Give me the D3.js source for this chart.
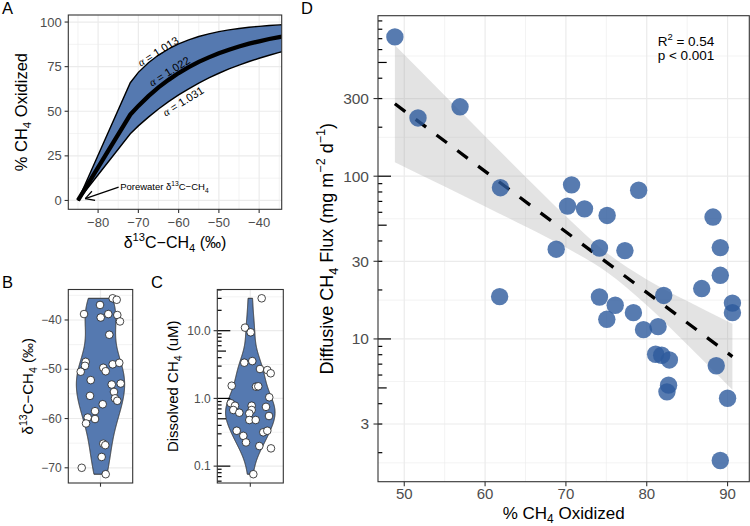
<!DOCTYPE html>
<html><head><meta charset="utf-8">
<script src="https://cdn.jsdelivr.net/npm/d3@7"></script>
<style>body{margin:0;background:#fff}svg{display:block}text{font-family:"Liberation Sans",Arial,Helvetica,sans-serif}</style>
</head><body><svg id="c" width="750" height="526"></svg>
<script>
// ---------------- DATA ----------------
// Panel A: model curves, delta13C-CH4 vs % oxidized
const curveDelta = [-85, -72, -70, -67.5, -65, -62.5, -60, -57.5, -55, -52.5, -50, -47.5, -45, -42.5, -40, -37.5, -35, -34];
const oxidized1013 = [0, 66.0, 71.8, 77.2, 81.5, 84.9, 87.8, 90.0, 91.9, 93.4, 94.6, 95.6, 96.4, 97.1, 97.6, 98.1, 98.4, 98.5];
const oxidized1022 = [0, 48.1, 53.0, 58.5, 63.4, 67.6, 71.4, 74.7, 77.7, 80.2, 82.5, 84.5, 86.3, 87.9, 89.2, 90.5, 91.6, 91.9];
const oxidized1031 = [0, 37.4, 41.8, 46.7, 51.3, 55.4, 59.2, 62.6, 65.8, 68.7, 71.3, 73.7, 75.9, 77.9, 79.7, 81.4, 83.0, 83.5];
const alphaLabels = ["1.013", "1.022", "1.031"];
const aXTicks = [-80, -70, -60, -50, -40];
const aYTicks = [0, 25, 50, 75, 100];

// Panel B: porewater delta13C-CH4 (permil) and jitter offsets
const bDelta = [-35.6, -35.9, -36.95, -38.8, -39.5, -38.8, -39.0, -40.3, -43.0, -48.5, -49.3, -50.5, -49.7, -50.4, -49.0, -48.7, -52.2, -53.1, -52.9, -54.6, -55.4, -55.9, -56.4, -57.1, -58.5, -59.8, -60.1, -61.0, -65.1, -65.4, -67.8, -70.0, -71.3];
const bJitter = [0.227, 0.302, -0.009, -0.307, 0.004, 0.145, 0.313, 0.363, 0.164, -0.276, -0.289, -0.369, 0.052, 0.097, 0.227, 0.350, -0.182, 0.209, 0.376, 0.251, -0.196, 0.270, 0.313, 0.041, -0.102, -0.238, -0.102, -0.270, 0.052, 0.089, 0.022, -0.350, 0.097];
const bYTicks = [-70, -60, -50, -40];

// Panel C: dissolved CH4 (uM) and jitter offsets
const cCH4 = [30.1, 11.1, 9.47, 3.37, 3.56, 2.72, 2.62, 2.35, 1.54, 1.49, 1.51, 0.85, 0.78, 0.675, 0.615, 0.78, 0.675, 0.60, 0.48, 0.48, 1.04, 0.75, 0.55, 0.333, 0.28, 0.224, 0.316, 0.333, 0.198, 0.183, 0.076];
const cJitter = [0.207, -0.096, 0.007, -0.109, 0.036, 0.176, 0.309, 0.371, -0.338, 0.104, 0.145, -0.356, -0.278, -0.309, -0.2, 0.025, 0.025, -0.018, -0.018, 0.098, 0.345, 0.285, 0.34, -0.247, -0.127, -0.078, 0.236, 0.309, 0.164, 0.376, 0.055];
const cYTicks = [0.1, 1, 10];
const cYLabels = ["0.1", "1.0", "10.0"];

// Panel D: % CH4 oxidized vs diffusive flux
const dOxidized = [48.84, 51.7, 56.9, 61.9, 70.7, 70.2, 72.3, 75.1, 79.0, 88.2, 89.1, 68.8, 74.15, 77.3, 61.8, 74.15, 76.1, 75.06, 78.35, 79.6, 81.4, 82.1, 86.8, 89.1, 90.6, 90.6, 81.1, 81.85, 82.8, 82.7, 82.5, 88.6, 90.0, 89.1];
const dFlux = [718, 228, 267, 85, 88.5, 65.5, 63, 57.4, 82, 56.1, 36.4, 35.6, 36.2, 34.9, 18.2, 18.1, 16.1, 13.2, 14.5, 11.4, 11.9, 18.5, 20.4, 24.6, 16.6, 14.5, 8.05, 7.94, 7.43, 5.2, 4.73, 6.84, 4.32, 1.79];
const fitX = [48.84, 90.6];
const fitY = [278.6, 7.79];
const ciX = [48.84, 55, 60, 65, 70, 75, 80, 85, 90.6];
const ciUpper = [637, 313, 176, 99.4, 56.8, 34.0, 23.2, 17.1, 12.4];
const ciLower = [121.8, 86.3, 65.2, 49.0, 36.4, 25.9, 16.1, 9.25, 4.88];
const dXTicks = [50, 60, 70, 80, 90];
const dYTicks = [3, 10, 30, 100, 300];
const statsText = ["0.54", "0.001"];

// ---------------- STYLE / HELPERS ----------------
const svg = d3.select("#c");
const GRID = "#ebebeb", BORDER = "#333333", AXT = "#4d4d4d", FILL = "#5579b0";
const defs = svg.append("defs");

function rich(sel, parts, fs) {
  let shift = 0;
  parts.forEach(p => {
    let target = 0, size = fs;
    if (p.sub) { target = 0.27 * fs; size = fs * 0.7; }
    if (p.sup) { target = -0.42 * fs; size = fs * 0.7; }
    sel.append("tspan").attr("font-size", size).attr("dy", target - shift).text(p.t);
    shift = target;
  });
  return sel;
}
function grid(g, P, xs, ys, xMaj, xMin, yMaj, yMin) {
  const add = (vals, isX, w) => vals.forEach(v => {
    const p = isX ? xs(v) : ys(v);
    if (isX) { if (p < P.l || p > P.r) return;
      g.append("line").attr("x1", p).attr("x2", p).attr("y1", P.t).attr("y2", P.b).attr("stroke", GRID).attr("stroke-width", w);
    } else { if (p < P.t || p > P.b) return;
      g.append("line").attr("y1", p).attr("y2", p).attr("x1", P.l).attr("x2", P.r).attr("stroke", GRID).attr("stroke-width", w);
    }
  });
  add(xMin, true, 0.6); add(yMin, false, 0.6); add(xMaj, true, 1.2); add(yMaj, false, 1.2);
}
function border(g, P) {
  g.append("rect").attr("x", P.l).attr("y", P.t).attr("width", P.r - P.l).attr("height", P.b - P.t)
    .attr("fill", "none").attr("stroke", BORDER).attr("stroke-width", 1.1);
}
function yTicks(g, P, ys, vals, labels, fs, len, gap) {
  vals.forEach((v, i) => {
    const y = ys(v);
    g.append("line").attr("x1", P.l - len).attr("x2", P.l).attr("y1", y).attr("y2", y).attr("stroke", BORDER).attr("stroke-width", 1.1);
    g.append("text").attr("x", P.l - len - gap).attr("y", y + fs * 0.35).attr("text-anchor", "end")
      .attr("font-size", fs).attr("fill", AXT).text(labels[i]);
  });
}
function xTicks(g, P, xs, vals, labels, fs, len, base) {
  vals.forEach((v, i) => {
    const x = xs(v);
    g.append("line").attr("x1", x).attr("x2", x).attr("y1", P.b).attr("y2", P.b + len).attr("stroke", BORDER).attr("stroke-width", 1.1);
    if (labels) g.append("text").attr("x", x).attr("y", base).attr("text-anchor", "middle")
      .attr("font-size", fs).attr("fill", AXT).text(labels[i]);
  });
}
function clip(id, P) {
  defs.append("clipPath").attr("id", id).append("rect").attr("x", P.l).attr("y", P.t).attr("width", P.r - P.l).attr("height", P.b - P.t);
}
function logMinor(breaks) { return d3.pairs(breaks).map(([a, b]) => Math.sqrt(a * b)); }
function logTicks(g, P, ys) {
  const [lo, hi] = ys.domain();
  for (let e = -3; e <= 4; e++) for (let k = 1; k <= 9; k++) {
    const v = k * Math.pow(10, e);
    if (v < lo || v > hi) continue;
    const len = k === 1 ? 13 : (k === 5 ? 8.7 : 4.3);
    const y = ys(v);
    g.append("line").attr("x1", P.l).attr("x2", P.l + len).attr("y1", y).attr("y2", y).attr("stroke", "#000").attr("stroke-width", 1.2);
  }
}
function panelLabel(t, x, y) {
  svg.append("text").attr("x", x).attr("y", y).attr("font-size", 16.5).attr("fill", "#000").text(t);
}
function kde(values) {
  const s = values.slice().sort(d3.ascending);
  const sd = d3.deviation(values);
  const iqr = d3.quantile(s, 0.75) - d3.quantile(s, 0.25);
  const bw = 0.9 * Math.min(sd, iqr / 1.34) * Math.pow(values.length, -0.2);
  const lo = s[0], hi = s[s.length - 1], n = 512;
  return d3.range(n).map(i => {
    const y = lo + (hi - lo) * i / (n - 1);
    const d = d3.mean(values, v => Math.exp(-0.5 * ((y - v) / bw) ** 2)) / (bw * Math.sqrt(2 * Math.PI));
    return [y, d];
  });
}
function expand(lo, hi) { const r = hi - lo; return [lo - 0.05 * r, hi + 0.05 * r]; }

// ---------------- PANEL A ----------------
{
  const P = { l: 68.3, r: 281.7, t: 15, b: 209.3 };
  const g = svg.append("g");
  const xs = d3.scaleLinear().domain([-87.4, -34.4]).range([P.l, P.r]);
  const ys = d3.scaleLinear().domain([-4.95, 103.95]).range([P.b, P.t]);
  grid(g, P, xs, ys, aXTicks, [-85, -75, -65, -55, -45, -35], aYTicks, [12.5, 37.5, 62.5, 87.5]);
  clip("clipA", P);
  const m = g.append("g").attr("clip-path", "url(#clipA)");
  const band = curveDelta.map((d, i) => ({ d, u: oxidized1013[i], lo: oxidized1031[i], mid: oxidized1022[i] }));
  m.append("path").datum(band).attr("fill", FILL)
    .attr("d", d3.area().x(p => xs(p.d)).y0(p => ys(p.lo)).y1(p => ys(p.u)));
  const ln = key => d3.line().x(p => xs(p.d)).y(p => ys(p[key]));
  m.append("path").datum(band).attr("fill", "none").attr("stroke", "#000").attr("stroke-width", 1.4).attr("d", ln("u"));
  m.append("path").datum(band).attr("fill", "none").attr("stroke", "#000").attr("stroke-width", 1.4).attr("d", ln("lo"));
  m.append("path").datum(band).attr("fill", "none").attr("stroke", "#000").attr("stroke-width", 4.3).attr("d", ln("mid"));
  // curve labels
  const labPos = [[-65.1, 83.6], [-62.3, 72.4], [-58.9, 55.6]];
  alphaLabels.forEach((a, i) => {
    const t = g.append("text").attr("font-size", 11).attr("fill", "#000").attr("text-anchor", "middle")
      .attr("dominant-baseline", "central")
      .attr("transform", `translate(${xs(labPos[i][0])},${ys(labPos[i][1])}) rotate(-32)`);
    t.append("tspan").attr("font-family", "Liberation Serif, serif").attr("font-style", "italic").text("α");
    t.append("tspan").text(" = " + a);
  });
  // arrow
  const tip = [xs(-83.2), ys(1)], tail = [xs(-74.9), ys(7.5)];
  g.append("line").attr("x1", tail[0]).attr("y1", tail[1]).attr("x2", tip[0]).attr("y2", tip[1]).attr("stroke", "#000").attr("stroke-width", 1.2);
  const ang = Math.atan2(tail[1] - tip[1], tail[0] - tip[0]);
  [-0.5, 0.5].forEach(o => {
    g.append("line").attr("x1", tip[0]).attr("y1", tip[1])
      .attr("x2", tip[0] + 10 * Math.cos(ang + o)).attr("y2", tip[1] + 10 * Math.sin(ang + o))
      .attr("stroke", "#000").attr("stroke-width", 1.2);
  });
  rich(g.append("text").attr("x", tail[0] + 1.5).attr("y", tail[1] + 3.3).attr("fill", "#000"),
    [{ t: "Porewater δ" }, { t: "13", sup: true }, { t: "C−CH" }, { t: "4", sub: true }], 9.5);
  border(g, P);
  yTicks(g, P, ys, aYTicks, aYTicks.map(String), 13, 3.7, 2.9);
  xTicks(g, P, xs, aXTicks, aXTicks.map(d3.format("d")), 13, 3.7, 227);
  rich(g.append("text").attr("x", (P.l + P.r) / 2).attr("y", 248).attr("text-anchor", "middle").attr("fill", "#000"),
    [{ t: "δ" }, { t: "13", sup: true }, { t: "C−CH" }, { t: "4", sub: true }, { t: " (‰)" }], 16);
  rich(g.append("text").attr("transform", `translate(27,${(P.t + P.b) / 2}) rotate(-90)`).attr("text-anchor", "middle").attr("fill", "#000"),
    [{ t: "% CH" }, { t: "4", sub: true }, { t: " Oxidized" }], 16.5);
  panelLabel("A", 2, 13.5);
}

// ---------------- PANEL B ----------------
{
  const P = { l: 68.3, r: 132.7, t: 289.5, b: 483 };
  const g = svg.append("g");
  const xs = d3.scaleLinear().domain([0.4, 1.6]).range([P.l, P.r]);
  const ys = d3.scaleLinear().domain(expand(d3.min(bDelta), d3.max(bDelta))).range([P.b, P.t]);
  grid(g, P, xs, ys, [1], [], bYTicks, [-75, -65, -55, -45, -35]);
  const dens = kde(bDelta), mx = d3.max(dens, d => d[1]);
  const pts = dens.map(d => [xs(1 + 0.45 * d[1] / mx), ys(d[0])])
    .concat(dens.slice().reverse().map(d => [xs(1 - 0.45 * d[1] / mx), ys(d[0])]));
  g.append("path").attr("d", d3.line()(pts) + "Z").attr("fill", FILL).attr("stroke", "#333").attr("stroke-width", 1);
  g.selectAll(".bp").data(bDelta).enter().append("circle")
    .attr("cx", (d, i) => xs(1 + bJitter[i])).attr("cy", d => ys(d)).attr("r", 3.8)
    .attr("fill", "#fff").attr("stroke", "#1a1a1a").attr("stroke-width", 0.8);
  border(g, P);
  yTicks(g, P, ys, bYTicks, bYTicks.map(d3.format("d")), 12, 3.7, 2.9);
  xTicks(g, P, xs, [1], null, 12, 3.7, 0);
  rich(g.append("text").attr("transform", `translate(33,${(P.t + P.b) / 2}) rotate(-90)`).attr("text-anchor", "middle").attr("fill", "#000"),
    [{ t: "δ" }, { t: "13", sup: true }, { t: "C−CH" }, { t: "4", sub: true }, { t: " (‰)" }], 15);
  panelLabel("B", 2, 288);
}

// ---------------- PANEL C ----------------
{
  const P = { l: 217.3, r: 283.3, t: 289.5, b: 483 };
  const g = svg.append("g");
  const xs = d3.scaleLinear().domain([0.4, 1.6]).range([P.l, P.r]);
  const ld = expand(Math.log10(d3.min(cCH4)), Math.log10(d3.max(cCH4)));
  const ys = d3.scaleLog().domain([Math.pow(10, ld[0]), Math.pow(10, ld[1])]).range([P.b, P.t]);
  grid(g, P, xs, ys, [1], [], cYTicks, logMinor([0.01, 0.1, 1, 10, 100]));
  const logs = cCH4.map(Math.log10);
  const dens = kde(logs), mx = d3.max(dens, d => d[1]);
  const pts = dens.map(d => [xs(1 + 0.45 * d[1] / mx), ys(Math.pow(10, d[0]))])
    .concat(dens.slice().reverse().map(d => [xs(1 - 0.45 * d[1] / mx), ys(Math.pow(10, d[0]))]));
  g.append("path").attr("d", d3.line()(pts) + "Z").attr("fill", FILL).attr("stroke", "#333").attr("stroke-width", 1);
  g.selectAll(".cp").data(cCH4).enter().append("circle")
    .attr("cx", (d, i) => xs(1 + cJitter[i])).attr("cy", d => ys(d)).attr("r", 3.8)
    .attr("fill", "#fff").attr("stroke", "#1a1a1a").attr("stroke-width", 0.8);
  logTicks(g, P, ys);
  border(g, P);
  yTicks(g, P, ys, cYTicks, cYLabels, 12, 3.7, 2.9);
  xTicks(g, P, xs, [1], null, 12, 3.7, 0);
  rich(g.append("text").attr("transform", `translate(178,${(P.t + P.b) / 2}) rotate(-90)`).attr("text-anchor", "middle").attr("fill", "#000"),
    [{ t: "Dissolved CH" }, { t: "4", sub: true }, { t: " (uM)" }], 15);
  panelLabel("C", 151, 288);
}

// ---------------- PANEL D ----------------
{
  const P = { l: 378, r: 749.3, t: 15.7, b: 481.7 };
  const g = svg.append("g");
  const xs = d3.scaleLinear().domain(expand(d3.min(dOxidized), d3.max(dOxidized))).range([P.l, P.r]);
  const ld = expand(Math.log10(d3.min(dFlux)), Math.log10(d3.max(dFlux)));
  const ys = d3.scaleLog().domain([Math.pow(10, ld[0]), Math.pow(10, ld[1])]).range([P.b, P.t]);
  grid(g, P, xs, ys, dXTicks, [45, 55, 65, 75, 85, 95], dYTicks, logMinor([1, 3, 10, 30, 100, 300, 1000]));
  clip("clipD", P);
  const m = g.append("g").attr("clip-path", "url(#clipD)");
  const ci = ciX.map((x, i) => ({ x, u: ciUpper[i], l: ciLower[i] }));
  m.append("path").datum(ci).attr("fill", "#999").attr("fill-opacity", 0.28)
    .attr("d", d3.area().curve(d3.curveMonotoneX).x(p => xs(p.x)).y0(p => ys(p.l)).y1(p => ys(p.u)));
  m.append("line").attr("x1", xs(fitX[0])).attr("y1", ys(fitY[0])).attr("x2", xs(fitX[1])).attr("y2", ys(fitY[1]))
    .attr("stroke", "#000").attr("stroke-width", 3.3).attr("stroke-dasharray", "13,13");
  m.selectAll(".dp").data(dFlux).enter().append("circle")
    .attr("cx", (d, i) => xs(dOxidized[i])).attr("cy", d => ys(d)).attr("r", 8.7)
    .attr("fill", "#2d5a9c").attr("fill-opacity", 0.8);
  logTicks(g, P, ys);
  border(g, P);
  yTicks(g, P, ys, dYTicks, dYTicks.map(String), 15.5, 4.5, 4.5);
  xTicks(g, P, xs, dXTicks, dXTicks.map(String), 15, 4.5, 498.5);
  rich(g.append("text").attr("x", 686).attr("y", 46).attr("text-anchor", "middle").attr("fill", "#000"),
    [{ t: "R" }, { t: "2", sup: true }, { t: " = " + statsText[0] }], 13.5);
  g.append("text").attr("x", 686).attr("y", 60).attr("text-anchor", "middle").attr("fill", "#000")
    .attr("font-size", 13.5).text("p < " + statsText[1]);
  rich(g.append("text").attr("x", (P.l + P.r) / 2).attr("y", 518.5).attr("text-anchor", "middle").attr("fill", "#000"),
    [{ t: "% CH" }, { t: "4", sub: true }, { t: " Oxidized" }], 17);
  rich(g.append("text").attr("transform", `translate(333,${(P.t + P.b) / 2}) rotate(-90)`).attr("text-anchor", "middle").attr("fill", "#000"),
    [{ t: "Diffusive CH" }, { t: "4", sub: true }, { t: " Flux (mg m" }, { t: "−2", sup: true }, { t: " d" }, { t: "−1", sup: true }, { t: ")" }], 18);
  panelLabel("D", 301, 13.5);
}
</script></body></html>
